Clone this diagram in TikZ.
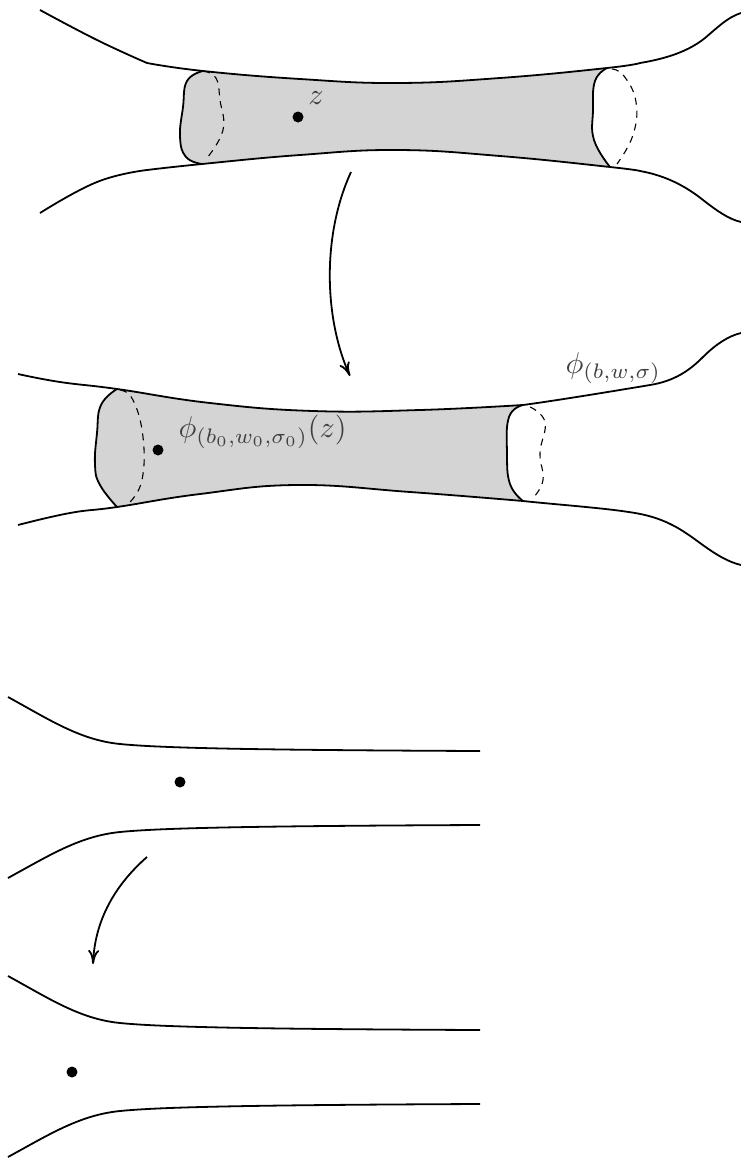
\documentclass[tikz,border=0pt]{standalone}
\usetikzlibrary{arrows.meta}
\begin{document}
\begin{tikzpicture}[x=1pt,y=-1pt,
  edge/.style={line width=1.8pt,line join=round},
  back/.style={line width=1.1pt,dash pattern=on 7pt off 6pt},
  band/.style={fill=black!17},
  dot/.style={circle,fill=black,inner sep=0pt,minimum size=11pt},
  lbl/.style={text=black!75,scale=3,inner sep=0pt},
  maparrow/.style={line width=1.8pt,-{To[length=14pt,width=11pt]}},
  sm/.style={smooth,tension=0.75}]
\useasboundingbox (0,0) rectangle (741,1159);

% ---------- panel 1 ----------
\fill[band] plot[sm] coordinates {(202,164) (186,157) (180,137) (183,107) (187,81) (203,71)}
  -- plot[sm] coordinates {(203,71) (300,79) (397,83) (500,78) (607,68)}
  -- plot[sm] coordinates {(607,68) (595,81) (593,110) (594,140) (610,167)}
  -- plot[sm] coordinates {(610,167) (500,156) (397,150) (300,155) (202,164)} -- cycle;
\draw[edge] plot[sm] coordinates {(40,10) (97,40) (147,63)}
  -- plot[sm] coordinates {(147,63) (203,71) (300,79) (397,83) (500,78) (607,68) (640,63)}
  .. controls (670,58) and (690,50) .. (705,38) .. controls (718,27) and (728,17) .. (741,13);
\draw[edge] plot[sm] coordinates {(40,213) (97,182) (147,170)}
  -- plot[sm] coordinates {(147,170) (202,164) (300,155) (397,150) (500,156) (610,167) (640,171)}
  .. controls (668,176) and (688,188) .. (703,200) .. controls (716,210) and (728,219) .. (741,222);
\draw[edge] plot[sm] coordinates {(202,164) (186,157) (180,137) (183,107) (187,81) (203,71)};
\draw[edge] plot[sm] coordinates {(607,68) (595,81) (593,110) (594,140) (610,167)};
\draw[back] plot[sm] coordinates {(203,71) (216,78) (220,100) (223,130) (207,158)};
\draw[back] plot[sm] coordinates {(612,69) (624,76) (636,102) (633,135) (617,164)};
\node[dot] (z) at (298,117) {};
\node[lbl] (zl) at (316,98) {$z$};

% arrow 1
\coordinate (a1s) at (351,172);
\coordinate (a1e) at (350,376);
\draw[maparrow] (a1s) .. controls (322,235) and (324,318) .. (a1e);

% ---------- panel 2 ----------
\fill[band] plot[sm] coordinates {(117,507) (100,485) (95,465) (97,433) (101,405) (117,389)}
  -- plot[sm] coordinates {(117,389) (210,403) (313,411) (420,410) (523,405)}
  -- plot[sm] coordinates {(523,405) (509,417) (507,453) (510,484) (523,501)}
  -- plot[sm] coordinates {(523,501) (410,492) (297,485) (200,494) (117,507)} -- cycle;
\draw[edge] plot[sm] coordinates {(18,374) (60,382) (117,389) (210,403) (313,411) (420,410) (523,405)}
  .. controls (560,400) and (620,390) .. (650,385) .. controls (675,381) and (690,370) .. (703,357) .. controls (715,345) and (728,336) .. (741,333);
\draw[edge] plot[sm] coordinates {(18,525) (70,513) (117,507) (200,494) (297,485) (410,492) (523,501)}
  .. controls (560,505) and (620,509) .. (645,515) .. controls (670,521) and (685,532) .. (700,543) .. controls (715,554) and (728,562) .. (741,565);
\draw[edge] plot[sm] coordinates {(117,507) (100,485) (95,465) (97,433) (101,405) (117,389)};
\draw[edge] plot[sm] coordinates {(523,405) (509,417) (507,453) (510,484) (523,501)};
\draw[back] plot[sm] coordinates {(120,390) (133,400) (143,437) (142,480) (130,502)};
\draw[back] plot[sm] coordinates {(530,407) (545,422) (540,453) (543,480) (533,498)};
\node[dot] (pz) at (158,450) {};
\node[lbl,anchor=west] (pzl) at (178,432) {$\phi_{(b_0,w_0,\sigma_0)}(z)$};
\node[lbl,anchor=west] (phil) at (565,368) {$\phi_{(b,w,\sigma)}$};

% ---------- panel 3 ----------
\draw[edge] (8,697) .. controls (50,720) and (80,740) .. (120,744) .. controls (160,748) and (250,750) .. (480,751);
\draw[edge] (8,878) .. controls (50,855) and (80,836) .. (120,832) .. controls (160,828) and (250,826) .. (480,825);
\node[dot] (d3) at (180,782) {};

% arrow 2
\coordinate (a2s) at (147,857);
\coordinate (a2e) at (93,964);
\draw[maparrow] (a2s) .. controls (115,885) and (95,920) .. (a2e);

% ---------- panel 4 ----------
\begin{scope}[shift={(0,279)}]
\draw[edge] (8,697) .. controls (50,720) and (80,740) .. (120,744) .. controls (160,748) and (250,750) .. (480,751);
\draw[edge] (8,878) .. controls (50,855) and (80,836) .. (120,832) .. controls (160,828) and (250,826) .. (480,825);
\end{scope}
\node[dot] (d4) at (72,1072) {};
\end{tikzpicture}
\end{document}
